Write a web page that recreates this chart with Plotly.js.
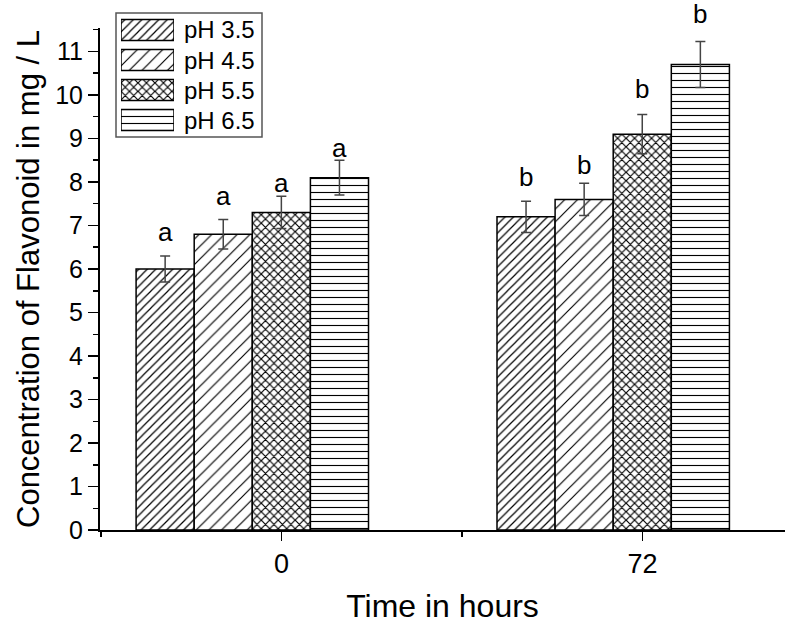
<!DOCTYPE html>
<html>
<head>
<meta charset="utf-8">
<script src="https://cdn.plot.ly/plotly-3.0.1.min.js"></script>
<style>html,body{margin:0;padding:0;background:#fff}#chart{width:786px;height:624px}</style>
</head>
<body>
<div id="chart"></div>
<script>
// ---- data ----
const categories = ['0', '72'];            // time in hours
const seriesNames = ['pH 3.5', 'pH 4.5', 'pH 5.5', 'pH 6.5'];
const ph35 = [6.0, 7.2];
const ph45 = [6.8, 7.6];
const ph55 = [7.3, 9.1];
const ph65 = [8.1, 10.7];
const err35 = [0.30, 0.36];
const err45 = [0.34, 0.37];
const err55 = [0.37, 0.45];
const err65 = [0.40, 0.53];
const letters0 = ['a', 'a', 'a', 'a'];
const letters72 = ['b', 'b', 'b', 'b'];

// ---- styling ----
const FONT = 'Liberation Sans, Arial, sans-serif';
const values = [ph35, ph45, ph55, ph65];
const errors = [err35, err45, err55, err65];
const letters = [letters0, letters72];
const patterns = [
  {shape: '/', size: 6, solidity: 0.2},
  {shape: '/', size: 9, solidity: 0.13},
  {shape: 'x', size: 6, solidity: 0.35},
  {shape: '-', size: 7, solidity: 0.16}
];
const letterGap = [[7, 6, -4, -5], [7, 1, 9, 10]]; // px between error cap and letter box
const BW = 0.161, OFF = -0.403;
const xIdx = categories.map((c, k) => k);

function marker(i) {
  return {
    color: 'white',
    line: {color: 'black', width: 1.5},
    pattern: Object.assign({fgcolor: 'black', bgcolor: 'white', fillmode: 'replace'}, patterns[i])
  };
}

const traces = [];
seriesNames.forEach((name, i) => {
  traces.push({
    type: 'bar', name: name, x: xIdx, y: values[i],
    width: BW, offset: OFF + i * BW,
    marker: marker(i),
    error_y: {type: 'data', array: errors[i], visible: true, color: '#444', thickness: 1.5, width: 5},
    showlegend: false, hoverinfo: 'y'
  });
  // legend swatch drawn in a small inset subplot
  traces.push({
    type: 'bar', orientation: 'h', x: [1], y: [i], base: 0, width: 0.7,
    xaxis: 'x2', yaxis: 'y2', marker: marker(i), cliponaxis: false,
    showlegend: false, hoverinfo: 'skip'
  });
});

const annotations = [];
categories.forEach((c, k) => {
  seriesNames.forEach((n, i) => {
    annotations.push({
      x: k + OFF + i * BW + BW / 2, y: values[i][k] + errors[i][k],
      xref: 'x', yref: 'y', text: letters[k][i], showarrow: false,
      yanchor: 'bottom', yshift: letterGap[k][i],
      font: {family: FONT, size: 26, color: 'black'}
    });
  });
});
seriesNames.forEach((n, i) => {
  annotations.push({
    x: (182 - 100) / 685, xref: 'paper', y: i, yref: 'y2', text: n,
    showarrow: false, xanchor: 'left', yanchor: 'middle',
    font: {family: FONT, size: 24, color: 'black'}
  });
});

const layout = {
  width: 786, height: 624,
  margin: {l: 100, r: 1, t: 0, b: 94},
  paper_bgcolor: 'white', plot_bgcolor: 'white',
  barmode: 'overlay',
  font: {family: FONT, color: 'black'},
  xaxis: {
    domain: [0, 1], range: [-0.503, 1.395],
    tickmode: 'array', tickvals: xIdx, ticktext: categories,
    ticks: 'outside', ticklen: 9, tickwidth: 1.5, tickcolor: 'black',
    minor: {tickmode: 'array', tickvals: [-0.5, 0.5, 1.5], ticks: 'outside', ticklen: 5, tickwidth: 1.5, tickcolor: 'black'},
    showline: true, linecolor: 'black', linewidth: 2,
    showgrid: false, zeroline: false,
    tickfont: {family: FONT, size: 27, color: 'black'},
    title: {text: 'Time in hours', font: {family: FONT, size: 32, color: 'black'}, standoff: 16}
  },
  yaxis: {
    domain: [0, 502 / 530], range: [0, 11.54],
    tickmode: 'linear', tick0: 0, dtick: 1,
    ticks: 'outside', ticklen: 10, tickwidth: 1.5, tickcolor: 'black',
    minor: {dtick: 0.5, ticks: 'outside', ticklen: 5, tickwidth: 1.5, tickcolor: 'black'},
    showline: true, linecolor: 'black', linewidth: 2,
    showgrid: false, zeroline: false,
    tickfont: {family: FONT, size: 25, color: 'black'},
    title: {text: 'Concentration of Flavonoid in mg / L', font: {family: FONT, size: 31, color: 'black'}, standoff: 6}
  },
  xaxis2: {domain: [(121 - 100) / 685, (174 - 100) / 685], range: [0, 1], visible: false, fixedrange: true, anchor: 'y2'},
  yaxis2: {domain: [(530 - 135) / 530, (530 - 15) / 530], range: [3.5, -0.5], visible: false, fixedrange: true, anchor: 'x2'},
  shapes: [{
    type: 'rect', xref: 'paper', yref: 'paper',
    x0: (116 - 100) / 685, x1: (262 - 100) / 685,
    y0: (530 - 137) / 530, y1: (530 - 13) / 530,
    line: {color: '#555', width: 1.5}, fillcolor: 'rgba(0,0,0,0)', layer: 'below'
  }],
  annotations: annotations,
  showlegend: false
};

Plotly.newPlot('chart', traces, layout, {displayModeBar: false, staticPlot: true});
</script>
</body>
</html>
